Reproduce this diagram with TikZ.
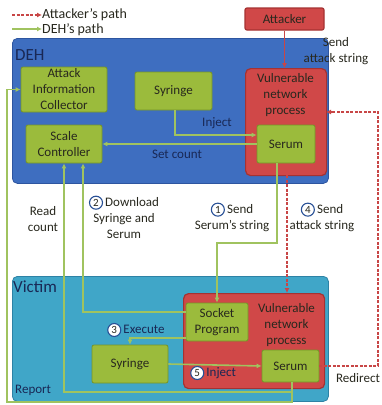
\documentclass[tikz,border=0pt]{standalone}
\usepackage{fontspec}
\setmainfont{Carlito}
\usetikzlibrary{arrows.meta}
\definecolor{dehblue}{RGB}{62,110,192}
\definecolor{dehblueD}{RGB}{45,85,160}
\definecolor{victeal}{RGB}{64,166,200}
\definecolor{victealD}{RGB}{45,130,165}
\definecolor{vred}{RGB}{208,72,72}
\definecolor{vredD}{RGB}{165,50,50}
\definecolor{bgreen}{RGB}{155,187,60}
\definecolor{bgreenD}{RGB}{118,148,40}
\definecolor{lgreen}{RGB}{160,195,95}
\definecolor{rline}{RGB}{200,70,70}
\definecolor{navy}{RGB}{25,40,85}
\definecolor{dtext}{RGB}{40,40,30}
\definecolor{circblue}{RGB}{40,80,150}
\newcommand\circnum[1]{\tikz[baseline=(c.base)]\node[circle,draw=circblue,fill=white,line width=1.1pt,inner sep=0pt,minimum size=13pt,text=dtext,font=\fontsize{11}{11}\selectfont](c){#1};}
\tikzset{
  every node/.style={font=\fontsize{13}{16}\selectfont},
  gbox/.style={draw=bgreenD,fill=bgreen,line width=0.8pt,rounded corners=2pt,align=center,text=dtext,inner sep=1pt},
  rbox/.style={draw=vredD,fill=vred,line width=1.2pt,rounded corners=5pt},
  areabox/.style={rounded corners=5pt,line width=0.8pt},
  gline/.style={draw=lgreen,line width=1.6pt,-{Latex[length=5pt,width=5pt]}},
  rdash/.style={draw=rline,line width=1.3pt,dash pattern=on 3pt off 1.5pt,-{Latex[length=5pt,width=5pt]}},
  rsolid/.style={draw=rline,line width=1.5pt,-{Latex[length=5pt,width=5pt]}},
  lbl/.style={align=center,text=dtext,inner sep=0pt},
  nlbl/.style={align=center,text=navy,inner sep=0pt}
}
\begin{document}
\begin{tikzpicture}[x=1pt,y=-1pt]
\useasboundingbox (0,0) rectangle (381,405);
% legend
\coordinate (l1a) at (12,15); \coordinate (l1b) at (42,15);
\coordinate (l2a) at (12,29); \coordinate (l2b) at (42,29);
\draw[rdash] (l1a) -- (l1b);
\draw[gline] (l2a) -- (l2b);
\node[lbl,anchor=west,font=\fontsize{14}{16}\selectfont] (leg1) at (42,14.5) {Attacker's path};
\node[lbl,anchor=west,font=\fontsize{14}{16}\selectfont] (leg2) at (42,29.5) {DEH's path};
% areas
\node[areabox,draw=dehblueD,fill=dehblue,minimum width=316pt,minimum height=145pt,anchor=north west] (deh) at (12,38) {};
\node[areabox,draw=victealD,fill=victeal,minimum width=316pt,minimum height=125pt,anchor=north west] (vic) at (12,276) {};
\node[nlbl,anchor=west,font=\fontsize{17}{20}\selectfont] (dehl) at (15,55) {DEH};
\node[nlbl,anchor=west,font=\fontsize{17}{20}\selectfont] (vicl) at (13,287) {Victim};
% attacker
\node[rbox,rounded corners=2pt,minimum width=79pt,minimum height=22pt,text=dtext] (att) at (284.5,19) {Attacker};
% DEH boxes
\node[rbox,minimum width=81pt,minimum height=107pt,anchor=north west] (vnpD) at (245,68) {};
\node[lbl,anchor=north] (vnpDl) at (285.5,73) {Vulnerable\\network\\process};
\node[gbox,minimum width=86pt,minimum height=45pt] (aic) at (64,89.5) {Attack\\Information\\Collector};
\node[gbox,minimum width=76pt,minimum height=38pt] (sc) at (64,144) {Scale\\Controller};
\node[gbox,minimum width=77pt,minimum height=38pt] (syrD) at (173.5,91) {Syringe};
\node[gbox,minimum width=58pt,minimum height=38pt] (serD) at (286,144) {Serum};
% Victim boxes
\node[rbox,minimum width=141pt,minimum height=95pt,anchor=north west] (vnpV) at (183,293) {};
\node[lbl,anchor=north] (vnpVl) at (286.5,303) {Vulnerable\\network\\process};
\node[gbox,minimum width=62pt,minimum height=38pt] (sock) at (217,322) {Socket\\Program};
\node[gbox,minimum width=76pt,minimum height=38pt] (syrV) at (130,364) {Syringe};
\node[gbox,minimum width=57pt,minimum height=32pt] (serV) at (290.5,366) {Serum};
% helper coordinates
\coordinate (p1) at (175,135);
\coordinate (p2) at (277,243);
\coordinate (p3) at (217,243);
\coordinate (p4) at (287,175);
\coordinate (p5) at (287,293);
\coordinate (p6) at (378,366);
\coordinate (p7) at (378,112);
\coordinate (p8) at (326,112);
\coordinate (p9) at (83,312);
\coordinate (p10) at (130,338);
\coordinate (p11) at (292,392);
\coordinate (p12) at (64,392);
\coordinate (p13) at (292,402);
\coordinate (p14) at (7,402);
\coordinate (p15) at (7,89.5);
% connectors
\draw[rsolid] (att.south) -- (att.south |- vnpD.north);
\draw[gline] (syrD.south -| p1) -- (p1) -- (p1 -| serD.west);
\draw[gline] (serD.west) -- (sc.east);
\draw[gline] (serD.south -| p2) -- (p2) -- (p3) -- (sock.north);
\draw[rdash] (p4) -- (p5);
\draw[rdash] (serV.east) -- (p6) -- (p7) -- (p8);
\draw[gline] (sock.west |- p9) -- (p9) -- (sc.south -| p9);
\draw[gline] (sock.west |- p10) -- (p10) -- (syrV.north);
\draw[gline] (syrV.east) -- (serV.west);
\draw[gline] (serV.south -| p11) -- (p11) -- (p12) -- (sc.south -| p12);
\draw[gline] (p11) -- (p13) -- (p14) -- (p15) -- (aic.west);
% labels
\node[lbl] (sendAtt) at (336,51) {Send\\attack string};
\node[nlbl] (injD) at (217,123) {Inject};
\node[nlbl] (setc) at (177,154) {Set count};
\node[lbl] (readc) at (43,219) {Read\\count};
\node[lbl] (dl) at (124,217) {\circnum{2}\,Download\\Syringe and\\Serum};
\node[lbl] (s1) at (232,217) {\circnum{1}\,Send\\Serum's string};
\node[lbl] (s4) at (322,217) {\circnum{4}\,Send\\attack string};
\node[nlbl,anchor=west] (exe) at (107,330) {\circnum{3}\,Execute};
\node[nlbl,anchor=west] (injV) at (190,373) {\circnum{5}\,Inject};
\node[nlbl,anchor=west] (rep) at (15,390) {Report};
\node[lbl] (redir) at (358,378) {Redirect};
\end{tikzpicture}
\end{document}
